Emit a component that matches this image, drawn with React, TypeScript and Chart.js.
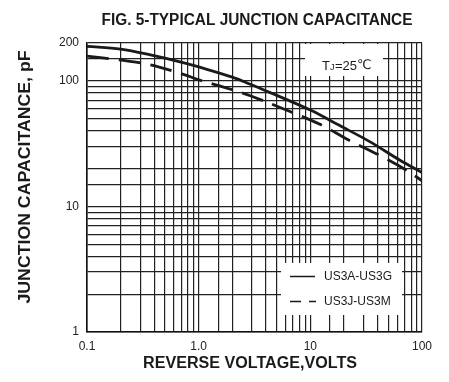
import { useEffect, useRef } from 'react';
import { Chart, registerables } from 'chart.js';

Chart.register(...registerables);

// Series: US3A-US3G (solid)
const voltsSolid = [0.1, 0.2, 0.37, 0.74, 1, 2, 2.9, 3.8, 10, 18, 34, 63, 100];
const capSolid = [188, 179, 161, 139, 129, 107, 94, 85, 58.5, 44.4, 32.8, 23.4, 18.6];
// Series: US3J-US3M (dashed)
const voltsDashed = [0.1, 0.19, 0.37, 0.74, 1, 1.9, 2.9, 7, 12.6, 22, 41, 72, 100];
const capDashed = [157, 147, 134, 112, 102, 86, 76, 55.7, 44.4, 33.8, 25.7, 19.5, 16];

const seriesNames = ['US3A-US3G', 'US3J-US3M'];
const xTickLabels = ['0.1', '1.0', '10', '100'];
const yTickLabels = ['1', '10', '100', '200'];
const titleText = 'FIG. 5-TYPICAL JUNCTION CAPACITANCE';
const xTitle = 'REVERSE VOLTAGE,VOLTS';
const yTitle = 'JUNCTION CAPACITANCE, pF';

const FONT = '"Liberation Sans", Arial, Helvetica, sans-serif';
const INK = '#1a1a1a';

// draw centered text at a given font size, squeezed horizontally to a target width
function drawFitted(
  ctx: CanvasRenderingContext2D,
  text: string,
  size: number,
  width: number,
  cx: number,
  cy: number,
  rotate = 0
) {
  ctx.save();
  ctx.font = `bold ${size}px ${FONT}`;
  const w = ctx.measureText(text).width;
  ctx.translate(cx, cy);
  if (rotate) ctx.rotate(rotate);
  ctx.scale(width / w, 1);
  ctx.textAlign = 'center';
  ctx.textBaseline = 'middle';
  ctx.fillText(text, 0, 0);
  ctx.restore();
}

const overlay = {
  id: 'overlay',
  beforeDatasetsDraw(chart: any) {
    const ctx: CanvasRenderingContext2D = chart.ctx;
    ctx.save();
    // white label boxes over the grid
    ctx.fillStyle = '#ffffff';
    ctx.fillRect(305, 44, 78, 32);
    ctx.fillRect(281, 263, 121, 52);

    // Tj label
    ctx.fillStyle = INK;
    ctx.textBaseline = 'middle';
    ctx.textAlign = 'left';
    ctx.font = `13px ${FONT}`;
    let x = 322;
    ctx.fillText('T', x, 66);
    x += ctx.measureText('T').width;
    ctx.font = `9px ${FONT}`;
    ctx.fillText('J', x, 68);
    x += ctx.measureText('J').width + 0.5;
    ctx.font = `13px ${FONT}`;
    ctx.fillText('=25', x, 66);
    x += ctx.measureText('=25').width;
    ctx.font = `13px "DejaVu Sans", "Noto Sans CJK SC", sans-serif`;
    ctx.fillText('\u2103', x, 66);

    // legend
    ctx.strokeStyle = INK;
    ctx.lineWidth = 1.5;
    ctx.beginPath();
    ctx.moveTo(290, 276.5);
    ctx.lineTo(315, 276.5);
    ctx.stroke();
    ctx.setLineDash([11, 8]);
    ctx.beginPath();
    ctx.moveTo(290, 301.5);
    ctx.lineTo(316, 301.5);
    ctx.stroke();
    ctx.setLineDash([]);
    ctx.font = `12px ${FONT}`;
    ctx.fillText(seriesNames[0], 324, 277);
    ctx.fillText(seriesNames[1], 324, 302);
    ctx.restore();
  },
  afterDraw(chart: any) {
    const ctx: CanvasRenderingContext2D = chart.ctx;
    ctx.save();
    ctx.fillStyle = INK;
    drawFitted(ctx, titleText, 16, 311, 257, 21);
    drawFitted(ctx, xTitle, 16, 214, 250, 364);
    drawFitted(ctx, yTitle, 17, 253, 25, 177, -Math.PI / 2);
    ctx.restore();
  },
};

function isDecadeOrLabel(v: number, labels: string[]) {
  return labels.some((l) => Math.abs(parseFloat(l) - v) < 1e-9 * Math.max(1, v));
}

export default function App() {
  const ref = useRef<HTMLCanvasElement | null>(null);
  useEffect(() => {
    if (!ref.current) return;
    const chart = new Chart(ref.current, {
      type: 'line',
      data: {
        datasets: [
          {
            label: seriesNames[0],
            data: voltsSolid.map((v, i) => ({ x: v, y: capSolid[i] })),
            borderColor: INK,
            borderWidth: 2.8,
            pointRadius: 0,
            tension: 0.35,
            fill: false,
          },
          {
            label: seriesNames[1],
            data: voltsDashed.map((v, i) => ({ x: v, y: capDashed[i] })),
            borderColor: INK,
            borderWidth: 2.8,
            borderDash: [22, 10],
            pointRadius: 0,
            tension: 0.35,
            fill: false,
          },
        ],
      },
      plugins: [overlay],
      options: {
        responsive: false,
        animation: false,
        layout: { padding: { top: 43, right: 27, left: 0, bottom: 0 } },
        plugins: {
          legend: { display: false },
          title: { display: false },
          tooltip: { enabled: false },
        },
        scales: {
          x: {
            type: 'logarithmic',
            min: 0.1,
            max: 100,
            afterFit: (s: any) => {
              s.height = 50;
            },
            grid: { color: '#222222', lineWidth: 1.2, drawTicks: false },
            border: { color: '#111111', width: 1.6 },
            ticks: {
              autoSkip: false,
              maxRotation: 0,
              padding: 7,
              color: '#222222',
              font: { family: FONT, size: 12 },
              callback: (v: any) => {
                const n = Number(v);
                const idx = xTickLabels.findIndex((l) => Math.abs(parseFloat(l) - n) < 1e-9);
                return idx >= 0 ? xTickLabels[idx] : '';
              },
            },
          },
          y: {
            type: 'logarithmic',
            min: 1,
            max: 200,
            afterFit: (s: any) => {
              s.width = 87;
            },
            grid: { color: '#222222', lineWidth: 1.2, drawTicks: false },
            border: { color: '#111111', width: 1.6 },
            ticks: {
              autoSkip: false,
              padding: 8,
              color: '#222222',
              font: { family: FONT, size: 12 },
              callback: (v: any) => {
                const n = Number(v);
                return isDecadeOrLabel(n, yTickLabels) ? String(n) : '';
              },
            },
          },
        },
      },
    });
    return () => chart.destroy();
  }, []);
  return (
    <div style={{ position: 'absolute', left: 0, top: 0, width: 449, height: 382, background: '#fff' }}>
      <canvas ref={ref} width={449} height={382} style={{ width: 449, height: 382 }} />
    </div>
  );
}
